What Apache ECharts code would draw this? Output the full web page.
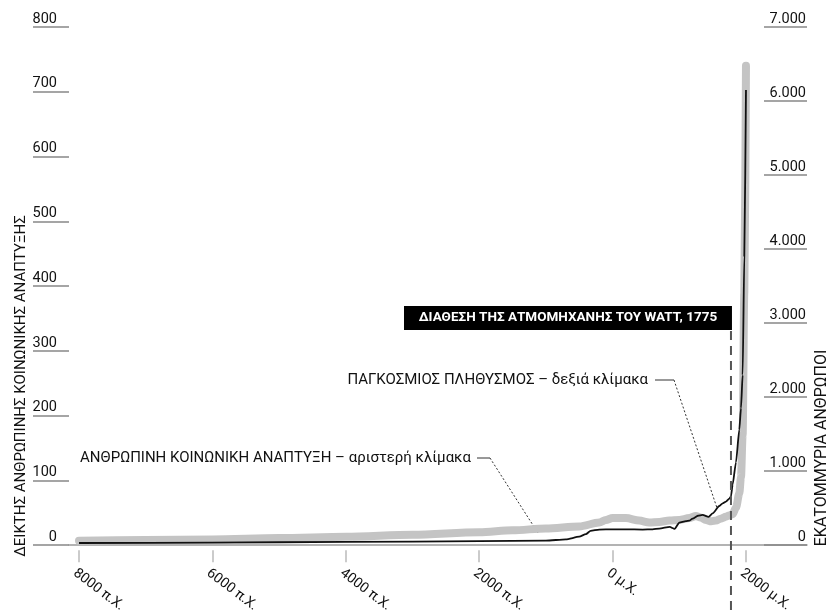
<!DOCTYPE html>
<html><head><meta charset="utf-8">
<script src="https://cdn.jsdelivr.net/npm/echarts@6/dist/echarts.min.js"></script>
<style>html,body{margin:0;padding:0;background:#fff}#c{width:830px;height:615px}</style>
</head><body><div id="c"></div>
<script>
// Social development index (left scale)
const socialYears  = [-8000,-7000,-6000,-5000,-4000,-3000,-2000,-1500,-1000,-500,-200,-100,0,200,400,550,700,850,1000,1150,1250,1320,1400,1480,1550,1620,1700,1750,1800,1850,1900,1925,1950,1975,2000];
const socialValues = [7,8,9,11,13,16,20,23,26,29,35,39,42,42,38,35,36,38,39,42,45,43,39,37,38,41,44,46,48,58,80,105,170,390,740];
// World population, millions (right scale)
const popYears  = [-8000,-6000,-4000,-2000,-1000,-700,-500,-400,-330,-200,0,200,450,600,700,860,900,930,1000,1100,1150,1200,1280,1350,1440,1500,1600,1650,1700,1750,1775,1800,1850,1900,1925,1950,1975,2000];
const popValues = [30,35,45,55,62,80,115,150,195,212,215,215,212,215,225,248,232,220,305,325,332,360,398,410,383,430,530,565,590,630,660,820,1120,1560,1850,2300,3900,6150];

const xTickValues = [-8000,-6000,-4000,-2000,0,2000];
const xTickLabels = ['8000 π.Χ.','6000 π.Χ.','4000 π.Χ.','2000 π.Χ.','0 μ.Χ.','2000 μ.Χ.'];
const leftMax = 800, leftStep = 100;
const rightMax = 7000, rightStep = 1000;
const leftName = 'ΔΕΙΚΤΗΣ ΑΝΘΡΩΠΙΝΗΣ ΚΟΙΝΩΝΙΚΗΣ ΑΝΑΠΤΥΞΗΣ';
const rightName = 'ΕΚΑΤΟΜΜΥΡΙΑ ΑΝΘΡΩΠΟΙ';
const socialLabel = 'ΑΝΘΡΩΠΙΝΗ ΚΟΙΝΩΝΙΚΗ ΑΝΑΠΤΥΞΗ – αριστερή κλίμακα';
const popLabel = 'ΠΑΓΚΟΣΜΙΟΣ ΠΛΗΘΥΣΜΟΣ – δεξιά κλίμακα';
const wattYear = 1775;
const wattLabel = 'ΔΙΑΘΕΣΗ ΤΗΣ ΑΤΜΟΜΗΧΑΝΗΣ ΤΟΥ WATT, 1775';

const FONT = 'Roboto, "Noto Sans", sans-serif';
const fmtThousands = v => String(v).replace(/\B(?=(\d{3})+(?!\d))/g, '.');
const xMin = -8150, xMax = 2915;

const chart = echarts.init(document.getElementById('c'), null, {renderer:'canvas'});
chart.setOption({
  animation: false,
  backgroundColor: '#fff',
  grid: {left: 69, right: 23, top: 27, bottom: 62, containLabel: false},
  xAxis: [
    {type:'value', min:xMin, max:xMax, position:'bottom',
     axisLine:{show:true, onZero:false, lineStyle:{color:'#9a9a9a', width:1.5}},
     axisTick:{show:false}, axisLabel:{show:false}, splitLine:{show:false}},
    {type:'value', min:xMin, max:xMax, position:'bottom', offset:5,
     axisLine:{show:false, onZero:false},
     axisTick:{show:true, length:12, customValues:xTickValues, lineStyle:{color:'#bbbbbb', width:1.5}},
     axisLabel:{show:true, customValues:xTickValues, rotate:-37, margin:16, verticalAlign:'top',
       fontFamily:FONT, fontSize:14, color:'#111',
       formatter: v => { const i = xTickValues.indexOf(v); return i >= 0 ? xTickLabels[i] : ''; }},
     splitLine:{show:false}}
  ],
  yAxis: [
    {type:'value', min:0, max:leftMax, interval:leftStep, position:'left',
     axisLine:{show:false, onZero:false},
     axisTick:{show:true, length:36, lineStyle:{color:'#888', width:1.5}},
     axisLabel:{fontFamily:FONT, fontSize:14.5, color:'#111', margin:12, verticalAlign:'bottom', lineHeight:16},
     splitLine:{show:false}},
    {type:'value', min:0, max:rightMax, interval:rightStep, position:'right',
     axisLine:{show:false, onZero:false},
     axisTick:{show:true, inside:true, length:43, lineStyle:{color:'#888', width:1.5}},
     axisLabel:{inside:true, margin:1, align:'right', verticalAlign:'bottom', lineHeight:16,
       fontFamily:FONT, fontSize:14.5, color:'#111', formatter: fmtThousands},
     splitLine:{show:false}}
  ],
  series: [
    {type:'line', name:'social', xAxisIndex:0, yAxisIndex:0, showSymbol:false, symbol:'none',
     smooth:0.3, smoothMonotone:'x', z:2,
     lineStyle:{color:'#c4c4c4', width:8, cap:'round', join:'round'},
     data: socialYears.map((y,i)=>[y, socialValues[i]])},
    {type:'line', name:'pop', xAxisIndex:0, yAxisIndex:1, showSymbol:false, symbol:'none',
     smooth:0.2, smoothMonotone:'x', z:3,
     lineStyle:{color:'#111', width:1.8, join:'round'},
     data: popYears.map((y,i)=>[y, popValues[i]])}
  ]
});

const wx = chart.convertToPixel({xAxisIndex:0}, wattYear);
chart.setOption({
  graphic: [
    {type:'text', x:21, y:386, rotation:Math.PI/2,
     style:{text:leftName, font:'15px '+FONT, fill:'#111', align:'center', verticalAlign:'middle'}},
    {type:'text', x:822, y:448, rotation:Math.PI/2,
     style:{text:rightName, font:'16px '+FONT, fill:'#111', align:'center', verticalAlign:'middle'}},
    {type:'text', x:80, y:458,
     style:{text:socialLabel, font:'15px '+FONT, fill:'#111', align:'left', verticalAlign:'middle'}},
    {type:'polyline', shape:{points:[[477,458],[490,458]]}, style:{stroke:'#333', lineWidth:1, fill:null}},
    {type:'polyline', shape:{points:[[490,458],[538,533]]}, style:{stroke:'#333', lineWidth:1, lineDash:[2,2], fill:null}},
    {type:'text', x:648, y:380,
     style:{text:popLabel, font:'15px '+FONT, fill:'#111', align:'right', verticalAlign:'middle'}},
    {type:'polyline', shape:{points:[[655,380],[674,380]]}, style:{stroke:'#333', lineWidth:1, fill:null}},
    {type:'polyline', shape:{points:[[674,380],[717,508]]}, style:{stroke:'#333', lineWidth:1, lineDash:[2,2], fill:null}},
    {type:'line', shape:{x1:wx, y1:331, x2:wx, y2:615}, z:10,
     style:{stroke:'#555', lineWidth:2, lineDash:[9,6]}},
    {type:'rect', shape:{x:404, y:306, width:wx+1-404, height:24}, style:{fill:'#000'}, z:10},
    {type:'text', x:(404+wx+1)/2, y:318, z:11,
     style:{text:wattLabel, font:'bold 13.5px '+FONT, fill:'#fff', align:'center', verticalAlign:'middle'}}
  ]
});
</script>
</body></html>
